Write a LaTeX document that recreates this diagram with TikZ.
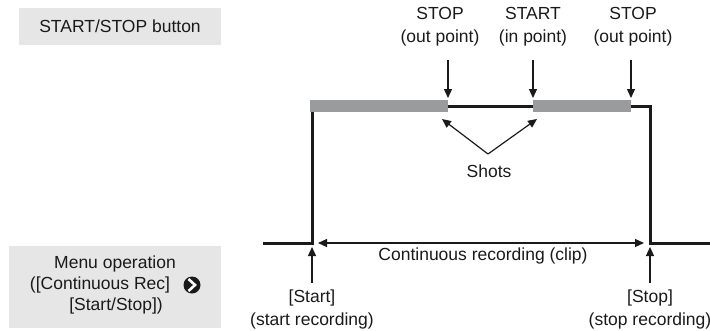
\documentclass[tikz,border=0pt]{standalone}
\usepackage{fontspec}
\setmainfont{Liberation Sans}
\usetikzlibrary{arrows.meta}
\definecolor{boxgray}{HTML}{E6E6E6}
\definecolor{bargray}{HTML}{9A9B9D}
\definecolor{ink}{HTML}{1A1A1A}
\tikzset{
  lbl/.style={inner sep=0pt, align=center, text=ink},
  ptr/.style={line width=1.2pt, draw=ink, -{Triangle[length=9pt,width=8pt]}},
  dptr/.style={line width=1.2pt, draw=ink, {Triangle[length=9pt,width=8pt]}-{Triangle[length=9pt,width=8pt]}},
  sig/.style={line width=3pt, draw=ink},
  bar/.style={fill=bargray},
  panel/.style={fill=boxgray}
}
\begin{document}
\begin{tikzpicture}[x=1pt,y=-1pt, font=\fontsize{17.5}{23}\selectfont]
\useasboundingbox (0,0) rectangle (710,330);
% left panels
\fill[panel] (19,8) rectangle (221,45);
\node[lbl] (btn) at (120,26.5) {START/STOP button};
\fill[panel] (9,246) rectangle (221,328);
\node[lbl] (m1) at (115,264) {Menu operation};
\node[lbl] (m2) at (100,285) {([Continuous Rec]};
\node[lbl] (m3) at (116,306) {[Start/Stop])};
\fill[ink] (192,285) circle (8.5);
\draw[white, line width=2.6pt, line join=miter] (188.5,279) -- (195,285) -- (188.5,291);
% signal
\coordinate (lo1) at (263,243);
\coordinate (c1) at (312,243);
\coordinate (c2) at (312,106);
\coordinate (c3) at (650,106);
\coordinate (c4) at (650,243);
\coordinate (lo2) at (710,243);
\draw[sig, line join=miter] (lo1) -- (c1) -- (c2) -- (c3) -- (c4) -- (lo2);
\fill[bar] (310,100) rectangle (448,112);
\fill[bar] (533,100) rectangle (631,112);
% top labels and arrows
\node[lbl] (stop1) at (440,26.5) {STOP\\(out point)};
\node[lbl] (start1) at (533,26.5) {START\\(in point)};
\node[lbl] (stop2) at (633,26.5) {STOP\\(out point)};
\coordinate (s1a) at (448,60); \coordinate (s1b) at (448,98);
\coordinate (s2a) at (533,60); \coordinate (s2b) at (533,98);
\coordinate (s3a) at (631,60); \coordinate (s3b) at (631,98);
\draw[ptr] (s1a) -- (s1b);
\draw[ptr] (s2a) -- (s2b);
\draw[ptr] (s3a) -- (s3b);
% shots
\node[lbl] (shots) at (489,171) {Shots};
\coordinate (sv) at (488,154);
\coordinate (sh1) at (442,119);
\coordinate (sh2) at (537,119);
\draw[ptr] (sv) -- (sh1);
\draw[ptr] (sv) -- (sh2);
% continuous recording
\coordinate (cl) at (318,243);
\coordinate (cr) at (644,243);
\draw[dptr] (cl) -- (cr);
\node[lbl] (cont) at (483,256) {Continuous recording (clip)};
% bottom labels
\node[lbl] (startl) at (312,309) {[Start]\\(start recording)};
\node[lbl] (stopl) at (650,309) {[Stop]\\(stop recording)};
\coordinate (ua) at (312,283); \coordinate (ub) at (312,247);
\coordinate (va) at (650,283); \coordinate (vb) at (650,247);
\draw[ptr] (ua) -- (ub);
\draw[ptr] (va) -- (vb);
\end{tikzpicture}
\end{document}
